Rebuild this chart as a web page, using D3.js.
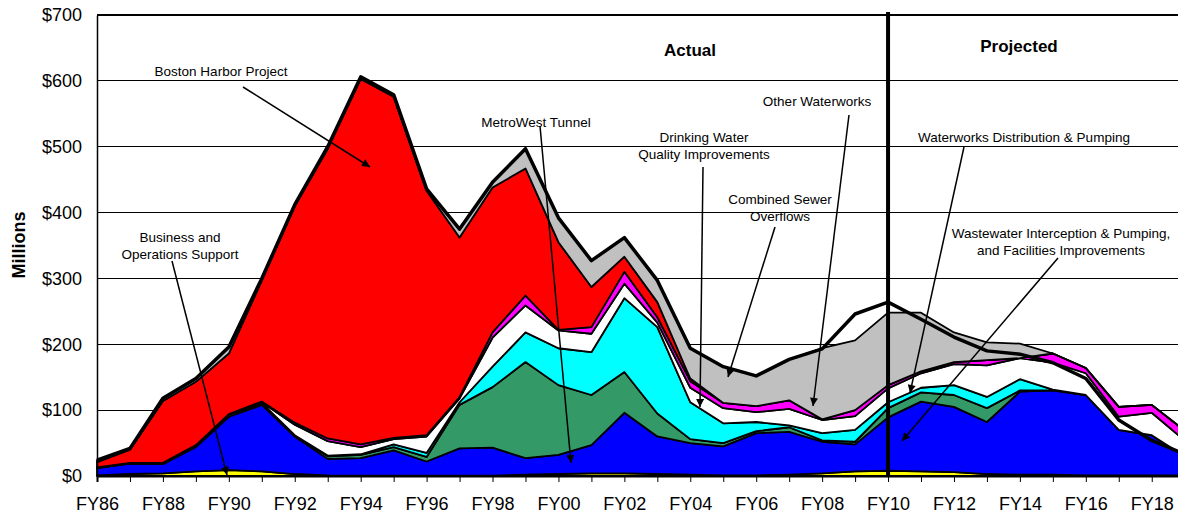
<!DOCTYPE html>
<html>
<head>
<meta charset="utf-8">
<script src="https://cdn.jsdelivr.net/npm/d3@7"></script>
<style>
  html, body { margin: 0; padding: 0; background: #fff; }
  svg { display: block; font-family: Arial, "Liberation Sans", sans-serif; }
</style>
</head>
<body>
<svg id="chart" width="1178" height="516"></svg>
<script>
// ---------- DATA ----------
const years = ["FY86","FY87","FY88","FY89","FY90","FY91","FY92","FY93","FY94","FY95",
  "FY96","FY97","FY98","FY99","FY00","FY01","FY02","FY03","FY04","FY05",
  "FY06","FY07","FY08","FY09","FY10","FY11","FY12","FY13","FY14","FY15",
  "FY16","FY17","FY18","FY19"];

// Business and Operations Support
const businessSupport = [1,3,4,7,9,7,3,1,0.5,0.5, 0.5,0.5,0.5,2,3,4,4,3,2,1, 1,2,4,7,8,7,6,3,2,2, 1,1,1,1];
// Wastewater Interception & Pumping, and Facilities Improvements
const wastewater = [11,16,14,37,81,101,57,25,26.5,38.5, 21.5,41.5,42.5,25,29,43,92,57,48,44, 64,65,48,41,81,106,99,79,126,128, 122,69,61,29];
// MetroWest Tunnel
const metroWest = [0.5,0.5,1,2,3,3,2,4,5,5, 7,66,92,146,106,76,62,35,6,5, 3,7,2,4,14,14,18,21,2,0, 0,0,0,0];
// Drinking Water Quality Improvements
const drinkingWater = [0,0,0,0,0,0,0,1,1,4, 6,4,31,45,56,65,112,131,56,30, 14,3,11,18,9,7,15,17,17,1, 0,0,0,0];
// Waterworks Distribution & Pumping
const distribution = [0.5,0.5,1,1,1,1,16,22,11,8, 25,6,44,41,27,28,22,7,22,23, 15,25,20,21,21,22,32,48,32,41, 33,20,34,24];
// Other Waterworks
const otherWaterworks = [0,0,0,0,0,1,3,4,4,2, 2,2,8,15,1,10,18,8,10,8, 9,13,1,9,5,3,3,8,0,14, 8,15,12,15];
// Boston Harbor Project
const bostonHarbor = [8,20,94,96,92,184,329,440,555,518, 371,242,220,193,133,61,23,23,4,0, 0,0,0,0,0,0,0,0,0,0, 0,0,0,0];
// Combined Sewer Overflows
const cso = [3,2,4,5,10,3,2,3,3,3, 3,13,8,30,37,40,29,33,46,55, 46,62,108,106,110,89,45,27,22,0, 0,0,0,0];
// Total (thick line)
const totalLine = [24,42,118,148,196,300,412,500,606,579, 436,375,446,497,392,327,362,297,194,166, 152,177,193,246,264,238,211,190,185,172, 148,85,54,33];

const yTicks = [0,100,200,300,400,500,600,700];
const tickLabelYears = ["FY86","FY88","FY90","FY92","FY94","FY96","FY98","FY00","FY02","FY04","FY06","FY08","FY10","FY12","FY14","FY16","FY18"];
const dividerYear = "FY10";

const seriesKeys = ["businessSupport","wastewater","metroWest","drinkingWater","distribution","otherWaterworks","bostonHarbor","cso"];
const seriesData = {businessSupport, wastewater, metroWest, drinkingWater, distribution, otherWaterworks, bostonHarbor, cso};
const seriesColors = {
  businessSupport: "#FFFF00",
  wastewater: "#0000FF",
  metroWest: "#339966",
  drinkingWater: "#00FFFF",
  distribution: "#FFFFFF",
  otherWaterworks: "#FF00FF",
  bostonHarbor: "#FF0000",
  cso: "#C0C0C0"
};

// ---------- CHART ----------
const svg = d3.select("#chart");
const x = d3.scalePoint().domain(years).range([97, 1184.7]);
const y = d3.scaleLinear().domain([0, 700]).range([476, 15]);

const rows = years.map((yr, i) => {
  const r = {year: yr};
  seriesKeys.forEach(k => r[k] = seriesData[k][i]);
  r.total = totalLine[i];
  return r;
});

// gridlines
svg.append("g").selectAll("line").data(yTicks.filter(d => d > 0)).join("line")
  .attr("x1", x(years[0])).attr("x2", 1178)
  .attr("y1", d => y(d)).attr("y2", d => y(d))
  .attr("stroke", "#000").attr("stroke-width", d => d === 700 ? 2 : 1)
  .attr("shape-rendering", "crispEdges");

// stacked areas
const stack = d3.stack().keys(seriesKeys);
const layers = stack(rows);
const area = d3.area()
  .x(d => x(d.data.year))
  .y0(d => y(d[0]))
  .y1(d => y(d[1]));

svg.append("g").selectAll("path").data(layers).join("path")
  .attr("d", area)
  .attr("fill", d => seriesColors[d.key])
  .attr("stroke", "#000")
  .attr("stroke-width", 1.8)
  .attr("stroke-linejoin", "round");

// thick total line
const line = d3.line().x(d => x(d.year)).y(d => y(d.total));
svg.append("path").datum(rows)
  .attr("d", line)
  .attr("fill", "none")
  .attr("stroke", "#000")
  .attr("stroke-width", 3.5)
  .attr("stroke-linejoin", "round");

// axes
const yAxis = d3.axisLeft(y).tickValues(yTicks).tickFormat(d => "$" + d).tickSize(0).tickPadding(15);
const gy = svg.append("g").attr("transform", `translate(${x(years[0])},0)`).call(yAxis);
gy.select(".domain").attr("stroke", "#000").attr("stroke-width", 1.5);
gy.selectAll("text").attr("font-size", 18).attr("font-family", "Arial, 'Liberation Sans', sans-serif").attr("fill", "#000");

const xAxis = d3.axisBottom(x).tickSize(6).tickPadding(15)
  .tickFormat(d => tickLabelYears.includes(d) ? d : "");
const gx = svg.append("g").attr("transform", `translate(0,${y(0)})`).call(xAxis);
gx.select(".domain").attr("stroke", "#000").attr("stroke-width", 2);
gx.selectAll(".tick line").attr("stroke", "#000").attr("stroke-width", 1);
gx.selectAll("text").attr("font-size", 18).attr("font-family", "Arial, 'Liberation Sans', sans-serif").attr("fill", "#000");

// divider line actual / projected
svg.append("line")
  .attr("x1", x(dividerYear)).attr("x2", x(dividerYear))
  .attr("y1", 12).attr("y2", y(0))
  .attr("stroke", "#000").attr("stroke-width", 4);

// y title
svg.append("text")
  .attr("transform", "translate(25,245) rotate(-90)")
  .attr("text-anchor", "middle")
  .attr("font-size", 18).attr("font-weight", "bold")
  .text("Millions");

svg.append("text").attr("x", 690).attr("y", 56).attr("text-anchor", "middle")
  .attr("font-size", 17).attr("font-weight", "bold").text("Actual");
svg.append("text").attr("x", 1019).attr("y", 52).attr("text-anchor", "middle")
  .attr("font-size", 17).attr("font-weight", "bold").text("Projected");

// annotations
svg.append("defs").append("marker")
  .attr("id", "arrow").attr("viewBox", "0 0 10 10").attr("refX", 10).attr("refY", 5)
  .attr("markerWidth", 11).attr("markerHeight", 8).attr("markerUnits", "userSpaceOnUse")
  .attr("orient", "auto")
  .append("path").attr("d", "M0,0 L10,5 L0,10 z").attr("fill", "#000");

const notes = [
  {lines: ["Boston Harbor Project"], cx: 221, by: 76, from: [243, 87], to: [370, 167]},
  {lines: ["Business and", "Operations Support"], cx: 180, by: 242, from: [172, 261], to: [227, 475]},
  {lines: ["MetroWest Tunnel"], cx: 536, by: 127, from: [540, 126], to: [571, 463]},
  {lines: ["Drinking Water", "Quality Improvements"], cx: 704, by: 142, from: [703, 167], to: [700, 407]},
  {lines: ["Combined Sewer", "Overflows"], cx: 780, by: 204, from: [775, 227], to: [728, 377]},
  {lines: ["Other Waterworks"], cx: 817, by: 106, from: [849, 115], to: [813, 406]},
  {lines: ["Waterworks Distribution & Pumping"], cx: 1024, by: 142, from: [964, 147], to: [910, 393]},
  {lines: ["Wastewater Interception & Pumping,", "and Facilities Improvements"], cx: 1061, by: 238, from: [1058, 258], to: [902, 441]}
];

const gn = svg.append("g");
notes.forEach(n => {
  const t = gn.append("text").attr("text-anchor", "middle").attr("font-size", 13.5).attr("fill", "#000");
  n.lines.forEach((l, i) => t.append("tspan").attr("x", n.cx).attr("y", n.by + i * 17).text(l));
  gn.append("line")
    .attr("x1", n.from[0]).attr("y1", n.from[1]).attr("x2", n.to[0]).attr("y2", n.to[1])
    .attr("stroke", "#000").attr("stroke-width", 1.5)
    .attr("marker-end", "url(#arrow)");
});
</script>
</body>
</html>
